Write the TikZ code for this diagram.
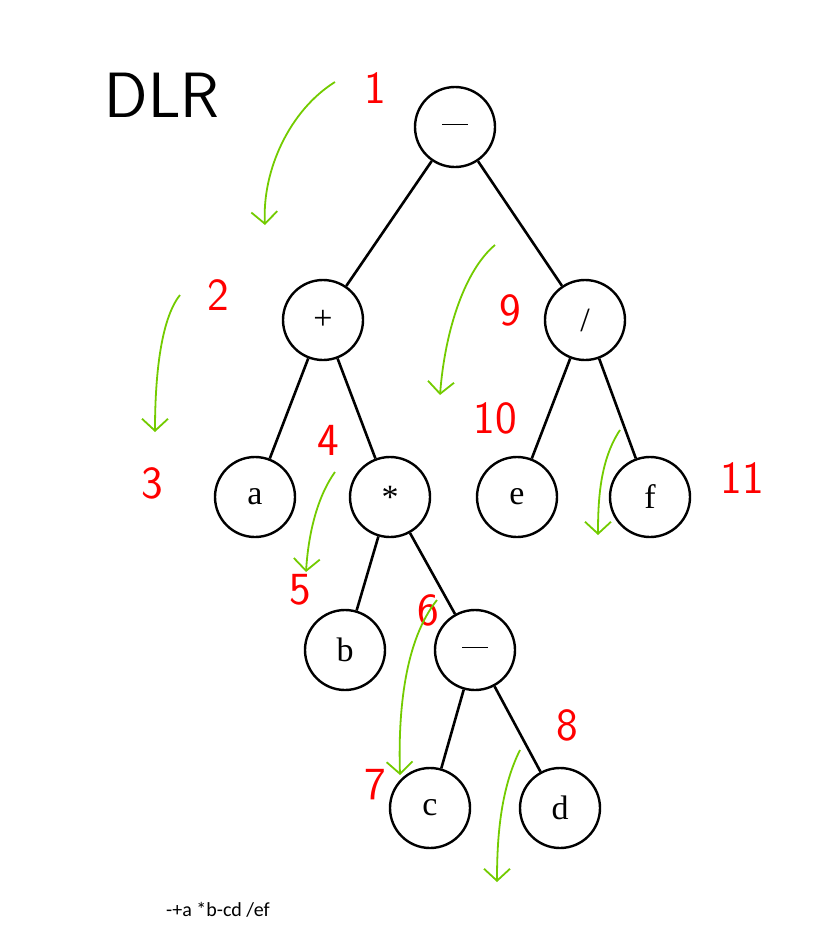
\documentclass[tikz,border=0pt]{standalone}
\usepackage{fontspec}
\usetikzlibrary{arrows.meta}
\setmainfont{Liberation Serif}
\newfontfamily\calib{Carlito}
\begin{document}
\begin{tikzpicture}[x=1pt,y=-1pt,
  tn/.style={circle,draw,line width=2.4pt,minimum size=80pt,inner sep=0pt,font=\fontsize{34}{34}\selectfont},
  edge/.style={line width=2.6pt},
  num/.style={text=red,font=\fontsize{46}{46}\selectfont\sffamily},
  gar/.style={draw=green!55!black!50!yellow!90!green,line width=1.8pt,-{Straight Barb[length=12pt,width=26pt]}}]
\useasboundingbox (0,0) rectangle (822,938);
\node[tn] (r) at (455,127) {\rule[0.3ex]{0.75em}{1.5pt}};
\node[tn] (p) at (323,320) {+};
\node[tn] (s) at (585,320) {/};
\node[tn] (a) at (255,497) {a};
\node[tn] (m) at (390,497) {*};
\node[tn] (e) at (517,497) {e};
\node[tn] (f) at (650,497) {f};
\node[tn] (b) at (345,650) {b};
\node[tn] (n) at (475,650) {\rule[0.3ex]{0.75em}{1.5pt}};
\node[tn] (c) at (430,808) {c};
\node[tn] (d) at (560,808) {d};
\foreach \u/\v in {r/p,r/s,p/a,p/m,s/e,s/f,m/b,m/n,n/c,n/d} \draw[edge] (\u) -- (\v);
\node[font=\fontsize{64}{64}\selectfont\sffamily] (dlr) at (162,95) {DLR};
\node[num] (n1) at (375,88) {1};
\node[num] (n2) at (218,295) {2};
\node[num] (n3) at (152,483) {3};
\node[num] (n4) at (328,440) {4};
\node[num] (n5) at (300,590) {5};
\node[num] (n6) at (428,610) {6};
\node[num] (n7) at (375,785) {7};
\node[num] (n8) at (567,725) {8};
\node[num] (n9) at (510,310) {9};
\node[num] (n10) at (495,418) {10};
\node[num] (n11) at (742,478) {11};
\coordinate (g1s) at (335,82); \coordinate (g1e) at (265,225);
\coordinate (g2s) at (180,295); \coordinate (g2e) at (155,432);
\coordinate (g3s) at (495,245); \coordinate (g3e) at (440,395);
\coordinate (g4s) at (335,472); \coordinate (g4e) at (306,572);
\coordinate (g5s) at (437,600); \coordinate (g5e) at (400,775);
\coordinate (g6s) at (520,750); \coordinate (g6e) at (497,882);
\coordinate (g7s) at (620,430); \coordinate (g7e) at (598,535);
\draw[gar] (g1s) .. controls (290,110) and (262,170) .. (g1e);
\draw[gar] (g2s) .. controls (160,320) and (155,380) .. (g2e);
\draw[gar] (g3s) .. controls (465,270) and (445,330) .. (g3e);
\draw[gar] (g4s) .. controls (315,500) and (308,540) .. (g4e);
\draw[gar] (g5s) .. controls (405,640) and (398,710) .. (g5e);
\draw[gar] (g6s) .. controls (500,790) and (497,840) .. (g6e);
\draw[gar] (g7s) .. controls (600,460) and (598,500) .. (g7e);
\node[font=\calib\fontsize{20}{20}\selectfont] (txt) at (218,910) {-+a *b-cd /ef};
\end{tikzpicture}
\end{document}
